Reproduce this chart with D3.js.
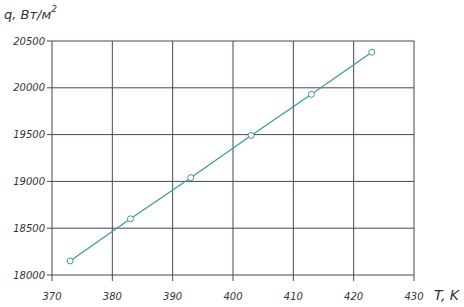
<!DOCTYPE html>
<html>
<head>
<meta charset="utf-8">
<script src="https://cdn.jsdelivr.net/npm/d3@7"></script>
<style>
  body { margin: 0; background: #fff; }
  text { font-family: "DejaVu Sans", sans-serif; font-style: italic; fill: #333; }
</style>
</head>
<body>
<div id="chart"></div>
<script>
var width = 464;
var height = 307;

var temps = [373, 383, 393, 403, 413, 423];
var fluxes = [18150, 18600, 19040, 19490, 19930, 20380];
var xTicks = [370, 380, 390, 400, 410, 420, 430];
var yTicks = [18000, 18500, 19000, 19500, 20000, 20500];

var margin = { left: 52, right: 50, top: 41, bottom: 32 };

var x = d3.scaleLinear().domain([370, 430]).range([margin.left, width - margin.right]);
var y = d3.scaleLinear().domain([18000, 20500]).range([height - margin.bottom, margin.top]);

var svg = d3.select("#chart").append("svg")
  .attr("width", width)
  .attr("height", height);

// grid
svg.append("g")
  .selectAll("line")
  .data(xTicks)
  .enter()
  .append("line")
  .attr("x1", (d) => x(d))
  .attr("x2", (d) => x(d))
  .attr("y1", y(20500))
  .attr("y2", y(18000) + 6)
  .style("stroke", "#45455f")
  .style("stroke-width", 1);

svg.append("g")
  .selectAll("line")
  .data(yTicks)
  .enter()
  .append("line")
  .attr("x1", x(370) - 5)
  .attr("x2", x(430))
  .attr("y1", (d) => y(d))
  .attr("y2", (d) => y(d))
  .style("stroke", "#45455f")
  .style("stroke-width", 1);

// tick labels
svg.append("g")
  .selectAll("text")
  .data(yTicks)
  .enter()
  .append("text")
  .attr("x", x(370) - 7)
  .attr("y", (d) => y(d))
  .attr("dy", "0.35em")
  .attr("text-anchor", "end")
  .style("font-size", "10px")
  .text((d) => d);

svg.append("g")
  .selectAll("text")
  .data(xTicks)
  .enter()
  .append("text")
  .attr("x", (d) => x(d))
  .attr("y", y(18000) + 25)
  .attr("text-anchor", "middle")
  .style("font-size", "10px")
  .text((d) => d);

// axis titles
var yt = svg.append("text").attr("x", 4).attr("y", 19).style("font-size", "13px");
yt.append("tspan").text("q, Вт/м");
yt.append("tspan").attr("dy", -7).style("font-size", "9px").text("2");

svg.append("text")
  .attr("x", 434)
  .attr("y", 300)
  .style("font-size", "14px")
  .text("T, K");

// data
var pts = temps.map((t, i) => [t, fluxes[i]]);

svg.append("path")
  .datum(pts)
  .attr("d", d3.line().x((d) => x(d[0])).y((d) => y(d[1])))
  .style("fill", "none")
  .style("stroke", "#3f9a8c")
  .style("stroke-width", 1.2);

svg.append("g")
  .selectAll("circle")
  .data(pts)
  .enter()
  .append("circle")
  .attr("cx", (d) => x(d[0]))
  .attr("cy", (d) => y(d[1]))
  .attr("r", 3)
  .style("fill", "#fff")
  .style("stroke", "#3f9a8c")
  .style("stroke-width", 1);
</script>
</body>
</html>
